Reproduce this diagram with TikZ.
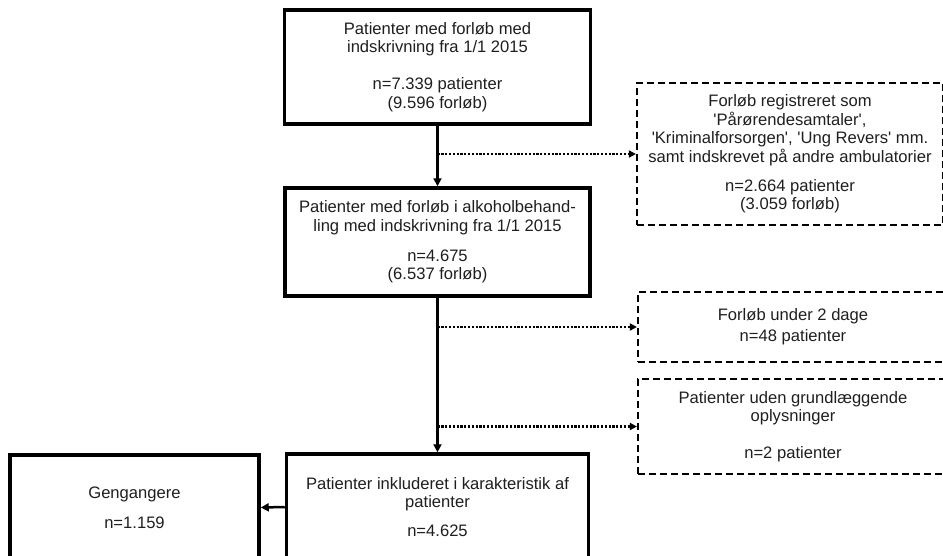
\documentclass[tikz,border=0pt]{standalone}
\usepackage{fontspec}
\setmainfont{Liberation Sans}[Ligatures=TeXOff]
\usetikzlibrary{arrows.meta}
\begin{document}
\begin{tikzpicture}[x=1pt,y=-1pt,
  txt/.style={align=center, inner sep=0pt, text=black!88, font=\fontsize{16.6}{18.4}\selectfont},
  solidbox/.style={txt, draw=black, line width=3.5pt, fill=white},
  dashbox/.style={txt, draw=black, line width=2.2pt, dash pattern=on 7pt off 4pt},
  mainarrow/.style={draw=black, line width=2.5pt, -{Triangle[length=8pt,width=8pt]}},
  sidearrow/.style={draw=black, line width=2.6pt, dash pattern=on 2.2pt off 1.6pt, -{Triangle[length=7pt,width=7pt]}}
]
\useasboundingbox (0,0) rectangle (943,555);
\clip (0,0) rectangle (943,555);

\node[solidbox, minimum width=306pt, minimum height=114pt] (b1) at (437.5,67)
  {Patienter med forløb med\\ indskrivning fra 1/1 2015\\[19pt] n=7.339 patienter\\ (9.596 forløb)};
\node[solidbox, minimum width=305pt, minimum height=108pt] (b2) at (437.5,242)
  {Patienter med forløb i alkoholbehand-\\ ling med indskrivning fra 1/1 2015\\[12pt] n=4.675\\ (6.537 forløb)};
\node[solidbox, minimum width=302pt, minimum height=106pt] (b3) at (437.5,507)
  {Patienter inkluderet i karakteristik af\\ patienter\\[10pt] n=4.625};
\node[solidbox, minimum width=249pt, minimum height=105pt] (g) at (134.5,507.5)
  {Gengangere\\[11.6pt] n=1.159};

\node[dashbox, minimum width=306pt, minimum height=142pt] (d1) at (790,154)
  {Forløb registreret som\\ 'Pårørendesamtaler',\\ 'Kriminalforsorgen', 'Ung Revers' mm.\\ samt indskrevet på andre ambulatorier\\[11pt] n=2.664 patienter\\ (3.059 forløb)};
\node[dashbox, minimum width=310pt, minimum height=70pt] (d2) at (793,327)
  {\raisebox{4.5pt}{\begin{tabular}{@{}c@{}}Forløb under 2 dage\\[2.6pt] n=48 patienter\end{tabular}}};
\node[dashbox, minimum width=310pt, minimum height=95pt] (d3) at (793,426.5)
  {Patienter uden grundlæggende\\ oplysninger\\[18pt] n=2 patienter};

\draw[mainarrow] (b1.south) -- (b2.north);
\draw[mainarrow] (b2.south) -- (b3.north);
\draw[mainarrow] (b3.west) -- (g.east);

\coordinate (j1) at (b1.south |- d1.west);
\coordinate (j2) at (b2.south |- d2.west);
\coordinate (j3) at (b2.south |- d3.west);
\draw[sidearrow] (j1) -- (d1.west);
\draw[sidearrow] (j2) -- (d2.west);
\draw[sidearrow] (j3) -- (d3.west);
\end{tikzpicture}
\end{document}
